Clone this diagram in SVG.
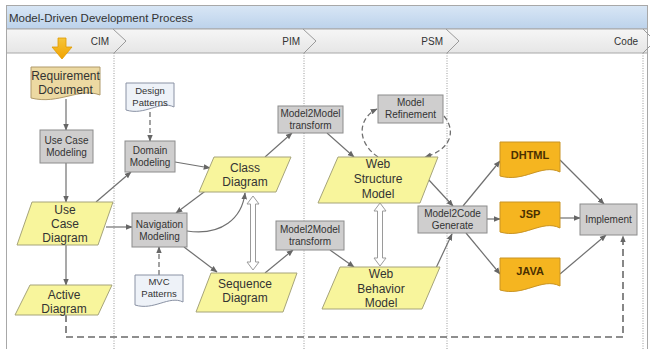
<svg xmlns="http://www.w3.org/2000/svg" width="650" height="349" viewBox="0 0 650 349">
<defs>
<linearGradient id="gTitle" x1="0" y1="0" x2="0" y2="1"><stop offset="0" stop-color="#d8e6f5"/><stop offset="1" stop-color="#bcd2eb"/></linearGradient>
<linearGradient id="gHead" x1="0" y1="0" x2="0" y2="1"><stop offset="0" stop-color="#f6f6f6"/><stop offset="1" stop-color="#e6e6e6"/></linearGradient>
<linearGradient id="gOrange" x1="0" y1="0" x2="0" y2="1"><stop offset="0" stop-color="#f5c53a"/><stop offset="1" stop-color="#f2a300"/></linearGradient>
<marker id="ah" viewBox="0 0 10 10" refX="9" refY="5" markerWidth="7" markerHeight="7" markerUnits="userSpaceOnUse" orient="auto"><path d="M0,1 L10,5 L0,9 z" fill="#666"/></marker>
</defs>
<style>
text{font-family:"Liberation Sans",Arial,sans-serif;fill:#333;text-anchor:middle}
.t10{font-size:10px}
.t95{font-size:9.5px}
.t12{font-size:12px}
.tb{font-size:11px;font-weight:bold;fill:#4a3000}
.hd{font-size:10px;text-anchor:end;fill:#333}
.box{fill:#cfcece;stroke:#8c8c8c;stroke-width:1}
.para{fill:#f8f59c;stroke:#a6a47a;stroke-width:1}
.docb{fill:#eef2f8;stroke:#8a92a4;stroke-width:1}
.doct{fill:#ecd9a2;stroke:#b09a6a;stroke-width:1}
.doco{fill:#f5b520;stroke:#c99424;stroke-width:1}
.ln{fill:none;stroke:#707070;stroke-width:1.2;marker-end:url(#ah)}
.dash{fill:none;stroke:#707070;stroke-width:1.3;stroke-dasharray:5,3;marker-end:url(#ah)}
.dash2{fill:none;stroke:#6a6a6a;stroke-width:1.6;stroke-dasharray:7,4;marker-end:url(#ah)}
.hollow{fill:#fff;stroke:#9a9a9a;stroke-width:1}
.lane{stroke:#999;stroke-width:1;stroke-dasharray:1,1.5;fill:none}
</style>
<rect x="0" y="0" width="650" height="349" fill="#fff"/>
<g id="frame">
<rect x="6.5" y="5.5" width="641" height="350" fill="#fff" stroke="#a8a8a8"/>
<rect x="6.5" y="5.5" width="641" height="23.5" fill="url(#gTitle)" stroke="#a8a8a8"/>
<rect x="6.5" y="29" width="641" height="24" fill="url(#gHead)" stroke="#a8a8a8"/>
<text x="9" y="22" style="font-size:11.5px;text-anchor:start;fill:#333">Model-Driven Development Process</text>
<path d="M113,29 L126,41 L114,53 M303,29 L316,41 L304,53 M446,29 L459,41 L447,53 M643,29 L655,41 L643,53" fill="none" stroke="#9a9a9a"/>
<text class="hd" x="109" y="45">CIM</text>
<text class="hd" x="300" y="45">PIM</text>
<text class="hd" x="443" y="45">PSM</text>
<text class="hd" x="638" y="45">Code</text>
<path class="lane" d="M114,53 V349 M304,53 V349 M447,53 V349 M643,53 V349"/>
</g>
<g id="start-arrow"><polygon points="58,38 66,38 66,47 72,47 62,59 52,47 58,47" fill="url(#gOrange)" stroke="#e09a00" stroke-width="0.8"/></g>
<g id="connectors">
<path class="ln" d="M66,99 V130"/>
<path class="ln" d="M66,163 V202"/>
<path class="ln" d="M66,245 V285"/>
<path class="dash2" d="M66,315 V337 H623 V236"/>
<path class="ln" d="M96,202 L131,172"/>
<path class="dash" d="M150,112 V141"/>
<path class="ln" d="M175,162 L210,168"/>
<path class="ln" d="M106,227 H132"/>
<path class="ln" d="M208,189 L176,213"/>
<path class="ln" d="M187,231 C222,236 242,218 245,193"/>
<path class="dash" d="M159,275 V247"/>
<path class="ln" d="M184,247 L217,272"/>
<path class="hollow" d="M253,196 L259,204 L255.5,204 L255.5,262 L259,262 L253,270 L247,262 L250.5,262 L250.5,204 L247,204 Z"/>
<path class="ln" d="M265,157 L292,133"/>
<path class="ln" d="M327,133 L354,157"/>
<path class="ln" d="M265,273 L293,250"/>
<path class="ln" d="M330,250 L354,267"/>
<path class="hollow" d="M380,203 L386,211 L382.5,211 L382.5,258 L386,258 L380,266 L374,258 L377.5,258 L377.5,211 L374,211 Z"/>
<path class="dash" d="M378,157 C356,142 358,118 377,109"/>
<path class="dash" d="M444,116 C457,132 450,150 425,157"/>
<path class="ln" d="M428,179 L453,206"/>
<path class="ln" d="M436,268 L452,234"/>
<path class="ln" d="M463,206 L500,161"/>
<path class="ln" d="M487,219 H500"/>
<path class="ln" d="M466,233 L500,274"/>
<path class="ln" d="M560,160 L604,204"/>
<path class="ln" d="M560,218 H580"/>
<path class="ln" d="M560,274 L606,235"/>
</g>
<g id="requirement-document"><path class="doct" d="M31,67 H100 V95 C79,87 59,105 31,98 Z"/><text class="t12" x="65.5" y="80">Requirement</text><text class="t12" x="65.5" y="94">Document</text></g>
<g id="use-case-modeling"><rect class="box" x="40" y="130" width="53" height="33"/><text class="t10" x="66.5" y="144">Use Case</text><text class="t10" x="66.5" y="156">Modeling</text></g>
<g id="use-case-diagram"><polygon class="para" points="32,202 113,202 98,245 17,245"/><text class="t12" x="65" y="214">Use</text><text class="t12" x="65" y="228">Case</text><text class="t12" x="65" y="242">Diagram</text></g>
<g id="active-diagram"><polygon class="para" points="30,285 112,285 98,315 15,315"/><text class="t12" x="64" y="299">Active</text><text class="t12" x="64" y="313">Diagram</text></g>
<g id="design-patterns"><path class="docb" d="M126,83 H174 V107 C160,100 145,116 126,110 Z"/><text class="t95" x="150" y="94">Design</text><text class="t95" x="150" y="106">Patterns</text></g>
<g id="domain-modeling"><rect class="box" x="125" y="141" width="50" height="31"/><text class="t10" x="150" y="154">Domain</text><text class="t10" x="150" y="166">Modeling</text></g>
<g id="navigation-modeling"><rect class="box" x="132" y="213" width="55" height="34"/><text class="t10" x="159.5" y="228">Navigation</text><text class="t10" x="159.5" y="240">Modeling</text></g>
<g id="mvc-patterns"><path class="docb" d="M135,275 H183 V302 C169,295 154,311 135,305 Z"/><text class="t95" x="159" y="285">MVC</text><text class="t95" x="159" y="297">Patterns</text></g>
<g id="class-diagram"><polygon class="para" points="214,157 291,157 276,192 199,192"/><text class="t12" x="245" y="172">Class</text><text class="t12" x="245" y="186">Diagram</text></g>
<g id="sequence-diagram"><polygon class="para" points="211,273 297,273 283,312 196,312"/><text class="t12" x="245" y="288">Sequence</text><text class="t12" x="245" y="302">Diagram</text></g>
<g id="m2m-top"><rect class="box" x="278" y="106" width="65" height="27"/><text class="t10" x="310.5" y="117">Model2Model</text><text class="t10" x="310.5" y="129">transform</text></g>
<g id="m2m-bottom"><rect class="box" x="276" y="221" width="68" height="29"/><text class="t10" x="310" y="233">Model2Model</text><text class="t10" x="310" y="245">transform</text></g>
<g id="model-refinement"><rect class="box" x="378" y="95" width="65" height="28"/><text class="t10" x="410.5" y="106">Model</text><text class="t10" x="410.5" y="118">Refinement</text></g>
<g id="web-structure-model"><polygon class="para" points="338,157 438,157 420,203 318,203"/><text class="t12" x="378" y="168">Web</text><text class="t12" x="378" y="183">Structure</text><text class="t12" x="378" y="198">Model</text></g>
<g id="web-behavior-model"><polygon class="para" points="340,267 440,267 422,309 322,309"/><text class="t12" x="381" y="278">Web</text><text class="t12" x="381" y="293">Behavior</text><text class="t12" x="381" y="307">Model</text></g>
<g id="model2code-generate"><rect class="box" x="418" y="206" width="69" height="27"/><text class="t10" x="452.5" y="217">Model2Code</text><text class="t10" x="452.5" y="229">Generate</text></g>
<g id="dhtml"><path class="doco" d="M500,142 H560 V172 C542,163 524,183 500,176 Z"/><text class="tb" x="530" y="159">DHTML</text></g>
<g id="jsp"><path class="doco" d="M500,202 H560 V228 C542,219 524,239 500,232 Z"/><text class="tb" x="530" y="218">JSP</text></g>
<g id="java"><path class="doco" d="M500,258 H560 V286 C542,277 524,297 500,290 Z"/><text class="tb" x="530" y="275">JAVA</text></g>
<g id="implement"><rect class="box" x="580" y="204" width="57" height="31"/><text class="t10" x="608.5" y="223">Implement</text></g>
</svg>
